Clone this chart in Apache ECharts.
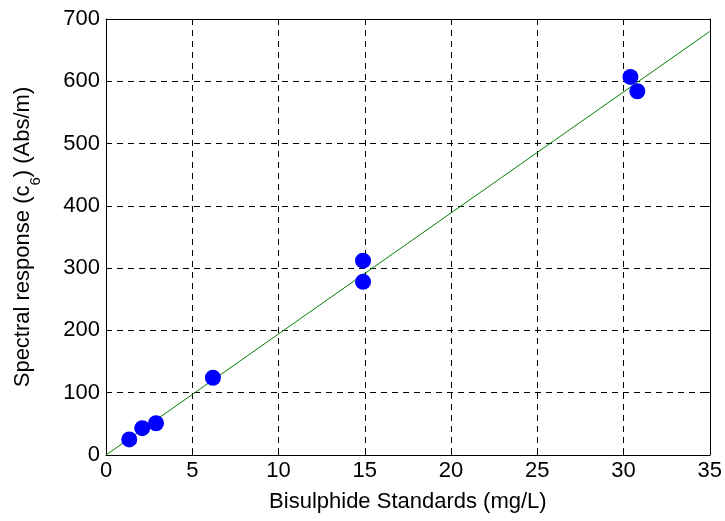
<!DOCTYPE html>
<html>
<head>
<meta charset="utf-8">
<script src="https://cdn.jsdelivr.net/npm/echarts@6/dist/echarts.min.js"></script>
<style>
  html, body { margin: 0; padding: 0; background: #fff; }
  #chart { width: 725px; height: 521px; }
</style>
</head>
<body>
<div id="chart"></div>
<script>
// measured standards (mg/L) and spectral response (Abs/m)
const stdX = [1.35, 2.1, 2.9, 6.2, 14.9, 14.9, 30.4, 30.8];
const respY = [25, 43, 51, 124, 312, 278, 607, 584];
// fitted calibration line
const fitX = [0, 35];
const fitY = [0, 680];
const xTicks = [0, 5, 10, 15, 20, 25, 30, 35];
const yTicks = [0, 100, 200, 300, 400, 500, 600, 700];

document.addEventListener("DOMContentLoaded", function () {
    var chart = echarts.init(document.getElementById('chart'));
    var font = 'Liberation Sans, Arial, sans-serif';
    var fs = 22;

    var baseAxis = {
        axisLine: { show: true, onZero: false, lineStyle: { color: '#000', width: 1 } },
        axisTick: { show: true, inside: true, length: 6, lineStyle: { color: '#000' } },
        axisLabel: { color: '#000', fontSize: fs, fontFamily: font },
        splitLine: { show: false }
    };

    var option = {
        animation: false,
        backgroundColor: '#fff',
        grid: { left: 106, right: 14, top: 19, bottom: 66, containLabel: false },
        xAxis: [
            Object.assign({}, baseAxis, {
                type: 'value', min: 0, max: 35, interval: 5,
                name: 'Bisulphide Standards (mg/L)',
                nameLocation: 'middle', nameGap: 36,
                nameTextStyle: { color: '#000', fontSize: fs, fontFamily: font },
                axisLabel: {
                    color: '#000', fontSize: fs, fontFamily: font, margin: 5,
                    formatter: function (v) { return xTicks.indexOf(v) >= 0 ? String(v) : ''; }
                },
                splitLine: { show: true, lineStyle: { color: '#000', type: [6, 5], width: 1 } }
            }),
            Object.assign({}, baseAxis, {
                type: 'value', min: 0, max: 35, interval: 5, position: 'top',
                axisLabel: { show: false }
            })
        ],
        yAxis: [
            Object.assign({}, baseAxis, {
                type: 'value', min: 0, max: 700, interval: 100,
                name: 'Spectral response (c{sub|6}) (Abs/m)',
                nameLocation: 'middle', nameGap: 72,
                nameTextStyle: {
                    color: '#000', fontSize: fs, fontFamily: font,
                    rich: { sub: { fontSize: 15, fontFamily: font, color: '#000', verticalAlign: 'bottom', padding: [0, 0, -9, 0] } }
                },
                axisLabel: {
                    color: '#000', fontSize: fs, fontFamily: font, margin: 6,
                    formatter: function (v) { return yTicks.indexOf(v) >= 0 ? String(v) : ''; }
                },
                splitLine: { show: true, lineStyle: { color: '#000', type: [6, 5], width: 1 } }
            }),
            Object.assign({}, baseAxis, {
                type: 'value', min: 0, max: 700, interval: 100, position: 'right',
                axisLabel: { show: false }
            })
        ],
        series: [
            {
                type: 'line',
                data: fitX.map(function (x, i) { return [x, fitY[i]]; }),
                showSymbol: false,
                lineStyle: { color: '#008000', width: 1 },
                z: 2
            },
            {
                type: 'scatter',
                data: stdX.map(function (x, i) { return [x, respY[i]]; }),
                symbol: 'circle',
                symbolSize: 16,
                itemStyle: { color: '#0000ff', opacity: 1 },
                z: 3
            }
        ]
    };

    chart.setOption(option);
});
</script>
</body>
</html>
